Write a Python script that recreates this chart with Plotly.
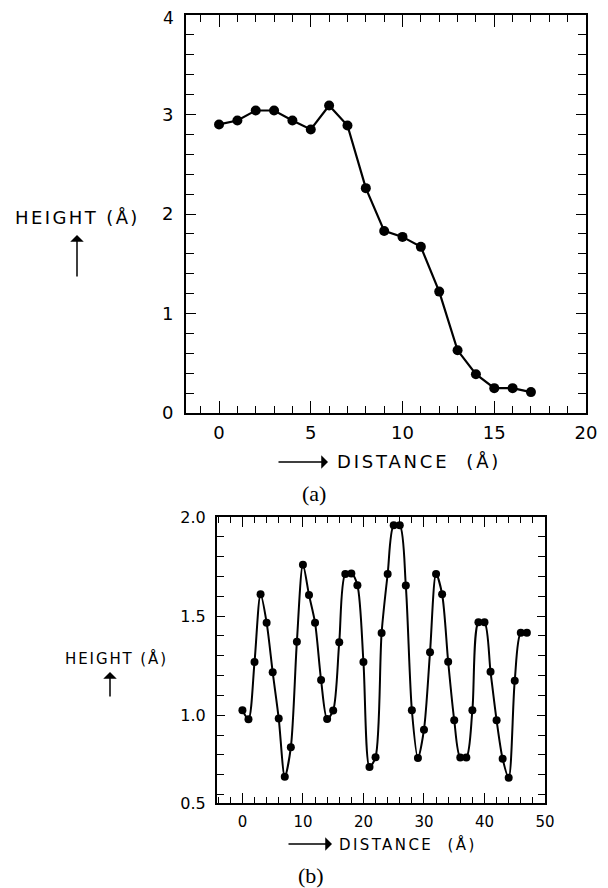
import numpy as np
import plotly.graph_objects as go

# ---- data (a) ----
dist_a = list(range(18))
height_a = [2.90, 2.94, 3.04, 3.04, 2.94, 2.85, 3.09, 2.89, 2.26, 1.83,
            1.77, 1.67, 1.22, 0.63, 0.39, 0.25, 0.25, 0.21]
ytick_a_vals = [0, 1, 2, 3, 4]
ytick_a_text = ["0", "1", "2", "3", ""]   # the "4" is drawn below, kept inside the page

# ---- data (b) ----
dist_b = list(range(48))
height_b = [1.025, 0.98, 1.268, 1.61, 1.467, 1.217, 0.983, 0.69, 0.838, 1.371,
            1.759, 1.607, 1.467, 1.177, 0.981, 1.024, 1.368, 1.712, 1.715, 1.656,
            1.268, 0.739, 0.788, 1.415, 1.712, 1.958, 1.958, 1.654, 1.025, 0.784,
            0.927, 1.317, 1.712, 1.61, 1.27, 0.975, 0.786, 0.786, 1.025, 1.469,
            1.469, 1.219, 0.975, 0.78, 0.685, 1.174, 1.416, 1.416]

ytick_b_vals = [0.557, 1.0, 1.5, 2.0]
ytick_b_text = ["0.5", "1.0", "1.5", "2.0"]

OFF = 8  # default page body margin
W, H = 608 - OFF, 888 - OFF
FONT = "DejaVu Sans"


def px(x):
    return (x - OFF) / W


def py(y):
    return 1 - (y - OFF) / H


fig = go.Figure()
fig.add_trace(go.Scatter(x=dist_a, y=height_a, mode="lines+markers",
                         line=dict(color="black", width=2.2),
                         marker=dict(color="black", size=10),
                         xaxis="x", yaxis="y", showlegend=False))
fig.add_trace(go.Scatter(x=dist_b, y=height_b, mode="lines+markers",
                         line=dict(color="black", width=2, shape="spline", smoothing=0.8),
                         marker=dict(color="black", size=8),
                         xaxis="x2", yaxis="y2", showlegend=False))

axcommon = dict(showgrid=False, zeroline=False, showline=True, linecolor="black",
                linewidth=2, mirror="ticks", ticks="inside", tickcolor="black",
                tickwidth=1.3, color="black", automargin=False,
                ticklabeloverflow="allow")

fig.update_layout(
    width=W, height=H,
    margin=dict(l=0, r=0, t=0, b=0, autoexpand=False),
    paper_bgcolor="white", plot_bgcolor="white",
    xaxis=dict(domain=[px(186), px(586)], range=[-1.8, 20], anchor="y",
               tickmode="linear", tick0=0, dtick=5, ticklen=12,
               minor=dict(ticks="inside", dtick=1, tick0=0, ticklen=7, tickcolor="black"),
               tickfont=dict(family=FONT, size=18, color="black"),
               ticklabelstandoff=2, **axcommon),
    yaxis=dict(domain=[py(413), py(15)], range=[0, 4], anchor="x",
               tickmode="array", tickvals=ytick_a_vals, ticktext=ytick_a_text, ticklen=10,
               minor=dict(ticks="inside", dtick=0.2, tick0=0, ticklen=8, tickcolor="black"),
               tickfont=dict(family=FONT, size=18, color="black"),
               ticklabelstandoff=7, **axcommon),
    xaxis2=dict(domain=[px(217), px(545)], range=[-4.2, 50], anchor="y2",
                tickmode="linear", tick0=0, dtick=10, ticklen=10,
                minor=dict(ticks="inside", dtick=2, tick0=0, ticklen=6, tickcolor="black"),
                tickfont=dict(family=FONT, size=15, color="black"),
                ticklabelstandoff=4, **axcommon),
    yaxis2=dict(domain=[py(803), py(517)], range=[0.557, 2.0], anchor="x2",
                tickmode="array", tickvals=ytick_b_vals, ticktext=ytick_b_text, ticklen=8,
                minor=dict(ticks="inside", tickmode="array",
                           tickvals=list(np.round(np.arange(0.6, 2.0, 0.1), 2)),
                           ticklen=7, tickcolor="black"),
                tickfont=dict(family=FONT, size=16, color="black"),
                ticklabelstandoff=6, **axcommon),
)


def label(text, x, y, size, spacing, xanchor="left", family=FONT, yanchor="middle"):
    fig.add_annotation(xref="paper", yref="paper", x=px(x), y=py(y),
                       text=f'<span style="letter-spacing:{spacing}px">{text}</span>',
                       showarrow=False, xanchor=xanchor, yanchor=yanchor,
                       borderpad=0, borderwidth=0,
                       font=dict(family=family, size=size, color="black"))


def arrow(hx, hy, tx, ty):
    fig.add_annotation(xref="paper", yref="paper", x=px(hx), y=py(hy),
                       ax=tx - hx, ay=ty - hy, axref="pixel", ayref="pixel",
                       text="", showarrow=True, arrowhead=1, arrowsize=1.5,
                       arrowwidth=1.5, arrowcolor="black", standoff=0)


# top tick label "4" of panel (a), anchored at the page top so it is not clipped
fig.add_annotation(xref="paper", yref="paper", x=px(174), y=1.0, text="4",
                   showarrow=False, xanchor="right", yanchor="top",
                   borderpad=0, borderwidth=0,
                   font=dict(family=FONT, size=17, color="black"))

# panel (a) labels
label("HEIGHT (Å)", 15, 217, 18, 2.4)
arrow(77, 235, 77, 278)
label("DISTANCE&nbsp; (Å)", 337, 462, 18, 2.8)
arrow(328, 462, 277, 462)
label("(a)", 314, 493, 22, 0, xanchor="center", family="Liberation Serif")

# panel (b) labels
label("HEIGHT (Å)", 65, 658, 15, 1.9)
arrow(110, 672, 110, 698)
label("DISTANCE&nbsp; (Å)", 339, 844, 15, 2.4)
arrow(332, 844, 287, 844)
label("(b)", 311, 875, 22, 0, xanchor="center", family="Liberation Serif")

fig.write_html("out.html")
